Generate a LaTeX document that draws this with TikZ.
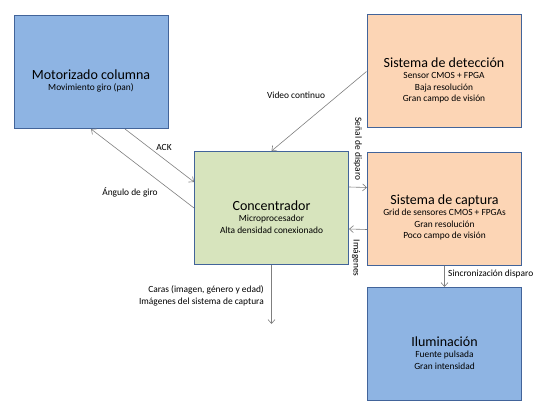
\documentclass[tikz,border=0pt]{standalone}
\usepackage{fontspec}
\setmainfont{Carlito}
\usetikzlibrary{arrows.meta,calc}
\definecolor{BoxBlue}{HTML}{8EB4E3}
\definecolor{BoxPeach}{HTML}{FCD5B5}
\definecolor{BoxGreen}{HTML}{D7E4BD}
\definecolor{BoxEdge}{HTML}{42649A}
\definecolor{LinkGray}{HTML}{7F7F7F}

\begin{document}
\begin{tikzpicture}[x=1pt,y=-1pt,>={Straight Barb[length=4pt,width=7pt]},
  block/.style={draw=BoxEdge,line width=1pt,minimum width=154pt,minimum height=113pt,inner sep=0pt},
  blocktext/.style={align=center,inner sep=0pt,font=\fontsize{9.4}{11.5}\selectfont},
  link/.style={LinkGray,line width=0.6pt,->},
  tag/.style={font=\fontsize{9.4}{11.8}\selectfont,inner sep=1pt}]

% Frame (image is 543 x 409)
\useasboundingbox (0,0) rectangle (543,409);

% Text sits about 9pt below the middle of each box
\def\drop{9}

% ---- BLOCKS ----
\node[block,fill=BoxBlue] (mot) at (91,72) {};
\node[blocktext] (motT) at ($(mot.center)+(0,\drop)$)
  {{\fontsize{14}{17}\selectfont Motorizado columna}\\Movimiento giro (pan)};

\node[block,fill=BoxPeach] (det) at (444,71.5) {};
\node[blocktext] (detT) at ($(det.center)+(0,\drop)$)
  {{\fontsize{14}{17}\selectfont Sistema de detección}\\Sensor CMOS + FPGA\\Baja resolución\\Gran campo de visión};

\node[block,fill=BoxGreen] (conc) at (271.5,208) {};
\node[blocktext] (concT) at ($(conc.center)+(0,\drop)$)
  {{\fontsize{14}{17}\selectfont Concentrador}\\Microprocesador\\Alta densidad conexionado};

\node[block,fill=BoxPeach] (cap) at (444.5,208.5) {};
\node[blocktext] (capT) at ($(cap.center)+(0,\drop)$)
  {{\fontsize{14}{17}\selectfont Sistema de captura}\\Grid de sensores CMOS + FPGAs\\Gran resolución\\Poco campo de visión};

\node[block,fill=BoxBlue] (ilu) at (444.5,344) {};
\node[blocktext] (iluT) at ($(ilu.center)+(0,\drop)$)
  {{\fontsize{14}{17}\selectfont Iluminación}\\Fuente pulsada\\Gran intensidad};

% ---- CONNECTORS ----
\draw[link] ([xshift=34pt]mot.south) -- ([yshift=26pt]conc.west);
\draw[link] (conc.west) -- (mot.south);
\draw[link] (det.west) -- (conc.north);
\draw[link] ([yshift=21pt]conc.east) -- ([yshift=21pt]cap.west);
\draw[link] ([yshift=-21pt]cap.west) -- ([yshift=-21pt]conc.east);
\draw[link] (cap.south) -- (ilu.north);
\coordinate (out) at ($(conc.south)+(0,59)$);
\draw[link] (conc.south) -- (out);

% ---- LABELS ----
\node[tag] (ack) at (164,147) {ACK};
\node[tag] (giro) at (130,192) {Ángulo de giro};
\node[tag] (video) at (296,95) {Video continuo};
\node[tag,rotate=-90] (senal) at (358,149) {Señal de disparo};
\node[tag,rotate=-90] (imgs) at (356,258) {Imágenes};
\node[tag,anchor=west] (sinc) at (447,274) {Sincronización disparo};
\node[tag,anchor=east,align=right] (caras) at (265,296)
  {Caras (imagen, género y edad)\\Imágenes del sistema de captura};

\end{tikzpicture}
\end{document}
